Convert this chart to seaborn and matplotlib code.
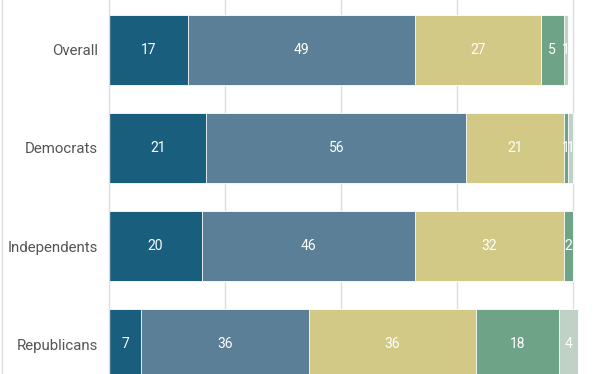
import numpy as np
import pandas as pd
import matplotlib
matplotlib.use("Agg")
import matplotlib.pyplot as plt
import seaborn as sns
from matplotlib.lines import Line2D

categories = ["Overall", "Democrats", "Independents", "Republicans"]
seg1 = [17, 21, 20, 7]
seg2 = [49, 56, 46, 36]
seg3 = [27, 21, 32, 36]
seg4 = [5, 1, 2, 18]
seg5 = [1, 1, 0, 4]
series = [seg1, seg2, seg3, seg4, seg5]
colors = ["#1a5e7e", "#5b7f96", "#d3c987", "#6fa388", "#c0d1c5"]

sns.set_theme(style="white")
plt.rcParams["font.family"] = ["Roboto", "DejaVu Sans"]

fig = plt.figure(figsize=(6.12, 3.74), dpi=100)
ax = fig.add_axes([109 / 612, 0, 1 - 109 / 612, 1])

vals = np.array(series, dtype=float)
cum = np.cumsum(vals, axis=0)

# draw cumulative bars from the last to the first so they stack visually
for i in range(len(series) - 1, -1, -1):
    df = pd.DataFrame({"cat": categories, "val": cum[i]})
    sns.barplot(data=df, x="val", y="cat", orient="h", color=colors[i],
                width=0.714, edgecolor="white", linewidth=0.6,
                saturation=1, ax=ax)

for i in range(len(series)):
    for j in range(len(categories)):
        v = vals[i, j]
        if v <= 0:
            continue
        cx = cum[i, j] - v / 2
        ax.text(cx, j, f"{int(v)}", ha="center", va="center",
                color="white", fontsize=10)

ax.set_xlim(0, 108.4)
ax.set_ylim(3.306, -0.51)
ax.set_xticks([25, 50, 75, 100])
ax.xaxis.grid(True, color="#dddddd", linewidth=1)
ax.set_axisbelow(True)
ax.set_xticklabels([])
ax.tick_params(axis="x", length=0)
ax.tick_params(axis="y", length=0, pad=8, labelsize=10.8, labelcolor="#555555")
ax.set_xlabel("")
ax.set_ylabel("")
for s in ["top", "right", "bottom"]:
    ax.spines[s].set_visible(False)
ax.spines["left"].set_color("#dddddd")
ax.spines["left"].set_linewidth(1)

fig.add_artist(Line2D([1.5 / 612, 1.5 / 612], [0, 1], color="#e0e0e0",
                      linewidth=1, transform=fig.transFigure))

fig.savefig("out.png", dpi=100)
